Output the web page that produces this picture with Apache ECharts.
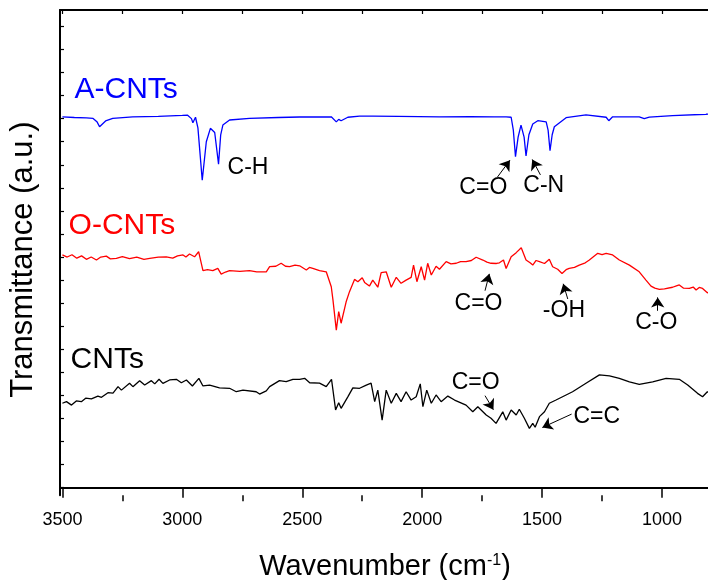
<!DOCTYPE html>
<html><head><meta charset="utf-8">
<script src="https://cdn.jsdelivr.net/npm/echarts@6/dist/echarts.min.js"></script>
<style>html,body{margin:0;padding:0;background:#fff}#c{width:708px;height:580px}</style>
</head><body><div id="c"></div>
<script>
// ---- tick values ----
const xMajorTicks = [3500, 3000, 2500, 2000, 1500, 1000];
const xMinorTicks = [3250, 2750, 2250, 1750, 1250];
const xTopTicks = [3500, 3250, 3000, 2750, 2500, 2250, 2000, 1750, 1500, 1250, 1000];
const yTicks = [0,1,2,3,4,5,6,7,8,9,10,11,12,13,14,15,16,17,18,19,20];

// ---- spectra: [wavenumber, transmittance (a.u., offset)] ----
const aCNTs = [[3500,16.08],[3450,16.05],[3400,16.03],[3372,16.01],[3355,15.85],[3345,15.65],[3320,15.9],[3290,16.01],
 [3207,16.08],[3100,16.1],[3000,16.14],[2978,16.15],[2962,16.0],[2956,15.82],[2945,16.06],[2935,15.6],[2917,13.33],
 [2900,15.0],[2883,15.58],[2865,15.4],[2849,14.03],[2840,15.3],[2831,15.72],[2803,15.94],[2720,16.01],[2600,16.05],
 [2511,16.07],[2379,16.08],[2358,15.86],[2348,15.97],[2338,15.91],[2310,16.06],[2261,16.11],[2206,16.11],[2100,16.1],
 [1928,16.08],[1800,16.09],[1700,16.08],[1650,16.08],[1629,16.06],[1620,15.5],[1611,14.35],[1600,15.2],[1588,15.72],
 [1575,15.2],[1567,14.38],[1555,15.3],[1539,15.77],[1518,15.91],[1483,15.86],[1475,15.5],[1467,14.61],[1458,15.3],
 [1449,15.65],[1400,16.04],[1317,16.16],[1233,16.06],[1222,15.91],[1206,16.08],[1095,16.08],[1074,16.0],[1053,16.07],
 [956,16.13],[817,16.19],[800,16.2]];

const oCNTs = [[3500,10.09],[3480,10.0],[3460,10.1],[3440,9.95],[3420,10.05],[3400,9.9],[3380,10.0],[3358,9.87],[3340,10.0],
 [3317,10.04],[3300,9.92],[3275,9.94],[3250,10.02],[3220,9.93],[3190,10.0],[3160,9.9],[3136,9.94],[3100,10.0],[3067,10.01],
 [3040,9.95],[3020,10.05],[2997,10.09],[2985,10.0],[2970,10.13],[2949,10.01],[2932,10.23],[2914,9.41],[2895,9.45],
 [2873,9.41],[2852,9.51],[2838,9.26],[2820,9.35],[2803,9.41],[2760,9.38],[2720,9.41],[2690,9.36],[2650,9.36],[2636,9.58],
 [2610,9.6],[2588,9.73],[2570,9.6],[2553,9.58],[2530,9.65],[2511,9.62],[2483,9.44],[2470,9.55],[2456,9.51],[2428,9.41],
 [2400,9.36],[2379,8.71],[2372,8.14],[2358,6.83],[2348,7.63],[2338,7.13],[2317,8.06],[2303,8.5],[2282,9.03],[2268,8.93],
 [2250,9.1],[2240,8.9],[2220,8.74],[2206,9.0],[2185,8.69],[2171,9.32],[2150,9.36],[2129,8.69],[2108,9.12],[2088,8.86],
 [2067,9.0],[2046,9.12],[2036,9.65],[2022,8.93],[2004,9.58],[1990,9.0],[1977,9.73],[1962,9.22],[1942,9.6],[1928,9.47],
 [1900,9.8],[1880,9.7],[1858,9.73],[1840,9.8],[1817,9.8],[1795,9.85],[1775,9.99],[1747,9.87],[1730,9.78],[1713,9.73],
 [1690,9.72],[1678,9.75],[1661,9.87],[1650,9.5],[1629,10.01],[1608,10.19],[1587,10.40],[1567,9.87],[1550,9.75],
 [1539,9.65],[1525,9.85],[1511,9.8],[1490,9.72],[1470,9.90],[1456,9.58],[1435,9.47],[1417,9.29],[1400,9.45],[1387,9.51],
 [1365,9.55],[1345,9.65],[1320,9.75],[1303,9.87],[1268,10.16],[1250,10.1],[1233,10.16],[1206,10.09],[1178,9.87],
 [1136,9.65],[1095,9.36],[1067,9.0],[1046,8.74],[1030,8.65],[1011,8.6],[990,8.62],[956,8.69],[940,8.75],[928,8.79],
 [910,8.65],[886,8.64],[870,8.7],[858,8.57],[845,8.68],[831,8.64],[811,8.45],[800,8.5]];

const cnts = [[3500,3.66],[3483,3.73],[3462,3.58],[3442,3.76],[3421,3.73],[3403,3.88],[3379,3.85],[3352,3.97],[3337,3.92],
 [3310,4.12],[3289,4.10],[3268,4.38],[3254,4.23],[3220,4.53],[3206,4.38],[3178,4.64],[3157,4.45],[3129,4.64],[3115,4.50],
 [3097,4.70],[3081,4.52],[3053,4.67],[3025,4.70],[3004,4.55],[2983,4.67],[2958,4.41],[2931,4.74],[2914,4.41],[2886,4.45],
 [2845,4.33],[2803,4.31],[2775,4.16],[2747,4.23],[2692,4.16],[2678,4.06],[2650,4.20],[2636,4.38],[2595,4.64],[2567,4.60],
 [2539,4.70],[2511,4.70],[2490,4.74],[2469,4.55],[2428,4.53],[2400,4.38],[2378,4.70],[2361,3.37],[2348,3.68],[2338,3.44],
 [2310,3.94],[2289,4.33],[2261,4.31],[2233,4.45],[2213,4.53],[2198,3.73],[2185,4.23],[2167,2.93],[2150,4.23],[2129,3.66],
 [2108,4.09],[2088,3.73],[2067,4.16],[2046,3.80],[2025,3.94],[2008,4.50],[1997,3.51],[1981,4.23],[1962,3.66],[1942,4.02],
 [1921,3.73],[1893,3.97],[1865,3.80],[1817,3.58],[1789,3.29],[1768,3.51],[1733,3.15],[1713,3.01],[1692,2.79],[1664,3.29],
 [1650,2.93],[1629,3.37],[1608,3.15],[1595,3.40],[1574,3.01],[1553,2.57],[1539,2.79],[1529,2.62],[1511,3.08],[1490,3.29],
 [1470,3.66],[1442,3.80],[1400,4.02],[1373,4.16],[1317,4.53],[1261,4.89],[1219,4.85],[1178,4.74],[1136,4.59],[1095,4.48],
 [1039,4.59],[983,4.74],[928,4.70],[893,4.45],[852,4.09],[831,3.94],[811,4.16],[800,4.1]];

// ---- annotation texts (anchored in data units) ----
const nameLabels = [
  {text:'A-CNTs', x:3234, y:17.24},
  {text:'O-CNTs', x:3252, y:11.34},
  {text:'CNTs',   x:3313, y:5.54}
];
const bandLabelsA = [{text:'C-H', x:2726, y:13.88},{text:'C=O', x:1745, y:12.99},{text:'C-N', x:1493, y:13.08}];
const bandLabelsO = [{text:'C=O', x:1765, y:7.98},{text:'-OH', x:1409, y:7.66},{text:'C-O', x:1024, y:7.14}];
const bandLabelsC = [{text:'C=O', x:1777, y:4.54},{text:'C=C', x:1272, y:3.08}];
// arrows: [fromX, fromY, toX, toY]
const arrowsA = [[1686,13.47,1634,14.20],[1507,13.56,1541,14.23]];
const arrowsO = [[1738,8.54,1720,9.27],[1393,8.18,1412,8.84],[1018,7.67,1018,8.25]];
const arrowsC = [[1738,3.99,1703,3.38],[1377,3.19,1499,2.61]];

const FONT = "'Liberation Sans', Arial, Helvetica, sans-serif";
const colors = ['#0000ff', '#ff0000', '#000000'];

function markPts(nameLbl, bands, color) {
  const d = [{coord:[nameLbl.x, nameLbl.y], value: nameLbl.text,
              label:{fontSize:30, color: color}}];
  bands.forEach(b => d.push({coord:[b.x, b.y], value: b.text, label:{fontSize:23, color:'#000'}}));
  return {symbol:'circle', symbolSize:0, silent:true,
          label:{show:true, position:'inside', fontFamily:FONT, formatter: p => p.value},
          data:d};
}
function markArrows(arr) {
  return {silent:true, symbol:['none','arrow'], symbolSize:10,
          lineStyle:{color:'#000', width:1, type:'solid'}, label:{show:false},
          emphasis:{disabled:true},
          data: arr.map(a => [{coord:[a[0],a[1]]},{coord:[a[2],a[3]]}])};
}

const sets = [aCNTs, oCNTs, cnts];
const names = ['A-CNTs','O-CNTs','CNTs'];
const bandSets = [bandLabelsA, bandLabelsO, bandLabelsC];
const arrowSets = [arrowsA, arrowsO, arrowsC];

const chart = echarts.init(document.getElementById('c'), null, {renderer:'canvas'});
const axisLine = {show:true, lineStyle:{color:'#000', width:2}};
chart.setOption({
  animation:false,
  backgroundColor:'#fff',
  grid:{left:60, top:10, width:650, height:485.3, containLabel:false, outerBoundsMode:'none'},
  xAxis:[
    {type:'value', position:'bottom', inverse:true, min:800, max:3510,
     axisLine:axisLine, splitLine:{show:false},
     axisTick:{show:true, inside:false, length:10, lineStyle:{color:'#000', width:1.5}, customValues:xMajorTicks},
     axisLabel:{show:true, customValues:xMajorTicks, margin:16, fontSize:18, color:'#000', fontFamily:FONT,
       formatter: v => String(v)},
     name:'Wavenumber (cm{sup|-1})', nameLocation:'middle', nameGap:57,
     nameTextStyle:{fontSize:29, color:'#000', fontFamily:FONT,
       rich:{sup:{fontSize:16, verticalAlign:'top', lineHeight:16, color:'#000', fontFamily:FONT}}}},
    {type:'value', position:'bottom', inverse:true, min:800, max:3510,
     axisLine:{show:false}, splitLine:{show:false},
     axisTick:{show:true, inside:false, length:6, lineStyle:{color:'#000', width:1.5}, customValues:xMinorTicks},
     axisLabel:{show:false}},
    {type:'value', position:'top', inverse:true, min:800, max:3510,
     axisLine:axisLine, splitLine:{show:false},
     axisTick:{show:true, inside:true, length:4, lineStyle:{color:'#000', width:1.2}, customValues:xTopTicks},
     axisLabel:{show:false}}
  ],
  yAxis:[{type:'value', position:'left', min:-0.33, max:20.71,
    axisLine:axisLine, splitLine:{show:false},
    axisTick:{show:true, inside:true, length:4, lineStyle:{color:'#000', width:1.2}, customValues:yTicks},
    axisLabel:{show:false},
    name:'Transmittance (a.u.)', nameLocation:'middle', nameGap:21, nameRotate:90,
    nameTextStyle:{fontSize:31, color:'#000', fontFamily:FONT, padding:[0,14,0,0]}}],
  series: sets.map((s,i)=>({
    type:'line', name:names[i], data:s, xAxisIndex:0, yAxisIndex:0,
    showSymbol:false, symbol:'none', smooth:false,
    lineStyle:{color:colors[i], width:1.3}, itemStyle:{color:colors[i]},
    emphasis:{disabled:true}, z:2,
    markPoint: markPts(nameLabels[i], bandSets[i], colors[i]),
    markLine: markArrows(arrowSets[i])
  }))
});
</script></body></html>
